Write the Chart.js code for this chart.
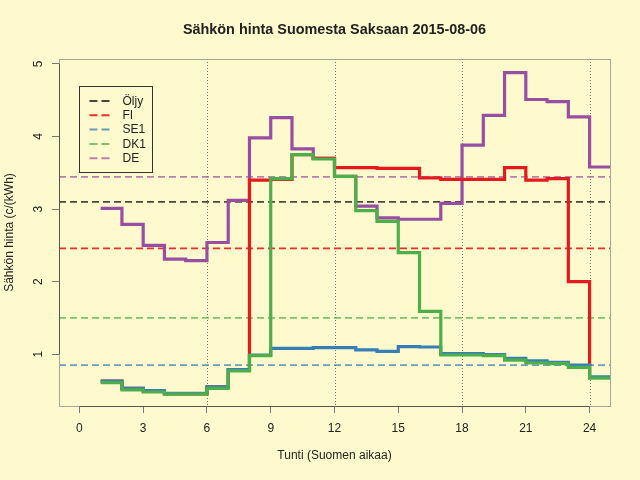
<!DOCTYPE html>
<html>
<head>
<meta charset="utf-8">
<script src="https://cdn.jsdelivr.net/npm/chart.js@4/dist/chart.umd.min.js"></script>
<style>
  html, body { margin: 0; padding: 0; background: #fffacd; }
  canvas { display: block; }
</style>
</head>
<body>
<canvas id="chart" width="640" height="480"></canvas>
<script>
// Hours 1..24 (each value holds for one hour), last value repeated at 25
const hours = [1, 2, 3, 4, 5, 6, 7, 8, 9, 10, 11, 12, 13, 14, 15, 16, 17, 18, 19, 20, 21, 22, 23, 24, 25];

const fiPrices  = [0.63, 0.53, 0.50, 0.455, 0.455, 0.55, 0.79, 3.40, 3.41, 3.75, 3.70, 3.57, 3.57, 3.56, 3.56, 3.43, 3.41, 3.41, 3.41, 3.57, 3.40, 3.42, 2.00, 0.68, 0.68];
const se1Prices = [0.63, 0.53, 0.50, 0.46, 0.46, 0.55, 0.79, 0.99, 1.08, 1.08, 1.09, 1.09, 1.06, 1.04, 1.105, 1.10, 1.01, 1.01, 0.995, 0.945, 0.91, 0.89, 0.85, 0.69, 0.69];
const dk1Prices = [0.61, 0.51, 0.48, 0.45, 0.45, 0.53, 0.77, 0.98, 3.42, 3.75, 3.69, 3.45, 2.98, 2.83, 2.40, 1.59, 0.99, 0.99, 0.98, 0.92, 0.88, 0.87, 0.82, 0.67, 0.67];
const dePrices  = [3.01, 2.79, 2.50, 2.31, 2.29, 2.54, 3.12, 3.98, 4.26, 3.83, 3.70, 3.45, 3.04, 2.88, 2.86, 2.86, 3.08, 3.88, 4.29, 4.88, 4.51, 4.48, 4.27, 3.58, 3.58];

// Reference levels (dashed lines)
const seriesNames = ['Öljy', 'FI', 'SE1', 'DK1', 'DE'];
const averages = [3.10, 2.46, 0.85, 1.50, 3.445];

const xTicks = [0, 3, 6, 9, 12, 15, 18, 21, 24];
const yTicks = [1, 2, 3, 4, 5];
const guideHours = [6, 12, 18, 24];

const X_MIN = -0.96;
const X_MAX = 24.96;

const solidColors = ['#333333', '#e41a1c', '#377eb8', '#4daf4a', '#984ea3'];
const dashColors = ['rgba(40,40,40,0.85)', 'rgba(228,26,28,0.9)', 'rgba(55,126,184,0.75)', 'rgba(77,175,74,0.75)', 'rgba(152,78,163,0.7)'];

const FONT = '"Liberation Sans", Arial, Helvetica, sans-serif';

function toPoints(values) {
    return hours.map((h, i) => ({ x: h, y: values[i] }));
}

function stepSet(label, values, color, order) {
    return {
        label,
        data: toPoints(values),
        borderColor: color,
        borderWidth: 3.2,
        stepped: 'before',
        pointRadius: 0,
        fill: false,
        order,
    };
}

function levelSet(i) {
    return {
        label: seriesNames[i] + ' avg',
        data: [{ x: X_MIN, y: averages[i] }, { x: X_MAX, y: averages[i] }],
        borderColor: dashColors[i],
        borderWidth: 1.8,
        borderDash: [7, 4],
        pointRadius: 0,
        fill: false,
        order: 10,
    };
}

// Background, box, guides, legend and text labels
const decorations = {
    id: 'decorations',
    beforeDraw(chart) {
        const ctx = chart.ctx;
        ctx.save();
        ctx.fillStyle = '#fffacd';
        ctx.fillRect(0, 0, chart.width, chart.height);
        ctx.restore();
    },
    beforeDatasetsDraw(chart) {
        const { ctx, chartArea } = chart;
        const x = chart.scales.x;
        ctx.save();
        ctx.strokeStyle = '#777777';
        ctx.lineWidth = 1;
        ctx.setLineDash([1, 2]);
        guideHours.forEach((h) => {
            const px = Math.round(x.getPixelForValue(h)) + 0.5;
            ctx.beginPath();
            ctx.moveTo(px, chartArea.top);
            ctx.lineTo(px, chartArea.bottom);
            ctx.stroke();
        });
        ctx.restore();
    },
    afterDraw(chart) {
        const { ctx, chartArea } = chart;
        const x = chart.scales.x;
        const y = chart.scales.y;
        ctx.save();

        // plot box
        ctx.strokeStyle = '#a8a49a';
        ctx.lineWidth = 1;
        ctx.strokeRect(chartArea.left + 0.5, chartArea.top + 0.5,
            chartArea.right - chartArea.left, chartArea.bottom - chartArea.top);

        // axis lines between first and last tick
        ctx.strokeStyle = '#555555';
        ctx.beginPath();
        ctx.moveTo(x.getPixelForValue(xTicks[0]), chartArea.bottom + 0.5);
        ctx.lineTo(x.getPixelForValue(xTicks[xTicks.length - 1]), chartArea.bottom + 0.5);
        ctx.moveTo(chartArea.left + 0.5, y.getPixelForValue(yTicks[0]));
        ctx.lineTo(chartArea.left + 0.5, y.getPixelForValue(yTicks[yTicks.length - 1]));
        ctx.stroke();

        // y tick labels (rotated like R)
        ctx.fillStyle = '#222222';
        ctx.font = '12px ' + FONT;
        ctx.textAlign = 'center';
        ctx.textBaseline = 'middle';
        yTicks.forEach((v) => {
            ctx.save();
            ctx.translate(39, y.getPixelForValue(v));
            ctx.rotate(-Math.PI / 2);
            ctx.fillText(String(v), 0, 0);
            ctx.restore();
        });

        // title
        ctx.font = 'bold 14.4px ' + FONT;
        ctx.fillText('Sähkön hinta Suomesta Saksaan 2015-08-06', (chartArea.left + chartArea.right) / 2, 30.5);

        // axis titles
        ctx.font = '12px ' + FONT;
        ctx.fillText('Tunti (Suomen aikaa)', (chartArea.left + chartArea.right) / 2, 456);
        ctx.save();
        ctx.translate(10, (chartArea.top + chartArea.bottom) / 2);
        ctx.rotate(-Math.PI / 2);
        ctx.fillText('Sähkön hinta (c/(kWh)', 0, 0);
        ctx.restore();

        // legend
        const lx = 79.5, ly = 86.5, lw = 73, lh = 86;
        ctx.fillStyle = '#fffacd';
        ctx.fillRect(lx, ly, lw, lh);
        ctx.strokeStyle = '#333333';
        ctx.lineWidth = 1;
        ctx.strokeRect(lx, ly, lw, lh);
        ctx.textAlign = 'left';
        seriesNames.forEach((name, i) => {
            const ry = 101 + i * 14.3;
            ctx.strokeStyle = dashColors[i];
            ctx.lineWidth = 2;
            ctx.setLineDash([8, 4]);
            ctx.beginPath();
            ctx.moveTo(89.5, ry);
            ctx.lineTo(109.5, ry);
            ctx.stroke();
            ctx.setLineDash([]);
            ctx.fillStyle = '#222222';
            ctx.fillText(name, 122.5, ry + 0.5);
        });

        ctx.restore();
    },
};

const datasets = [
    stepSet('DK1', dk1Prices, solidColors[3], 1),
    stepSet('SE1', se1Prices, solidColors[2], 2),
    stepSet('FI', fiPrices, solidColors[1], 3),
    stepSet('DE', dePrices, solidColors[4], 4),
];
for (let i = 0; i < seriesNames.length; i++) {
    datasets.push(levelSet(i));
}

new Chart(document.getElementById('chart'), {
    type: 'line',
    data: { datasets },
    options: {
        responsive: false,
        animation: false,
        devicePixelRatio: 1,
        layout: { padding: { top: 59, right: 30, left: 0, bottom: 0 } },
        plugins: {
            legend: { display: false },
            title: { display: false },
            tooltip: { enabled: false },
        },
        scales: {
            x: {
                type: 'linear',
                min: X_MIN,
                max: X_MAX,
                afterBuildTicks: (scale) => { scale.ticks = xTicks.map((v) => ({ value: v })); },
                afterFit: (scale) => { scale.height = 74; },
                grid: { drawOnChartArea: false, tickLength: 7, color: '#777777' },
                border: { display: false },
                ticks: { color: '#222222', font: { family: FONT, size: 12 }, padding: 8, maxRotation: 0 },
            },
            y: {
                type: 'linear',
                min: 0.287,
                max: 5.068,
                afterBuildTicks: (scale) => { scale.ticks = yTicks.map((v) => ({ value: v })); },
                afterFit: (scale) => { scale.width = 59; },
                grid: { drawOnChartArea: false, tickLength: 7, color: '#777777' },
                border: { display: false },
                ticks: { color: 'rgba(0,0,0,0)', font: { family: FONT, size: 12 } },
            },
        },
    },
    plugins: [decorations],
});
</script>
</body>
</html>
